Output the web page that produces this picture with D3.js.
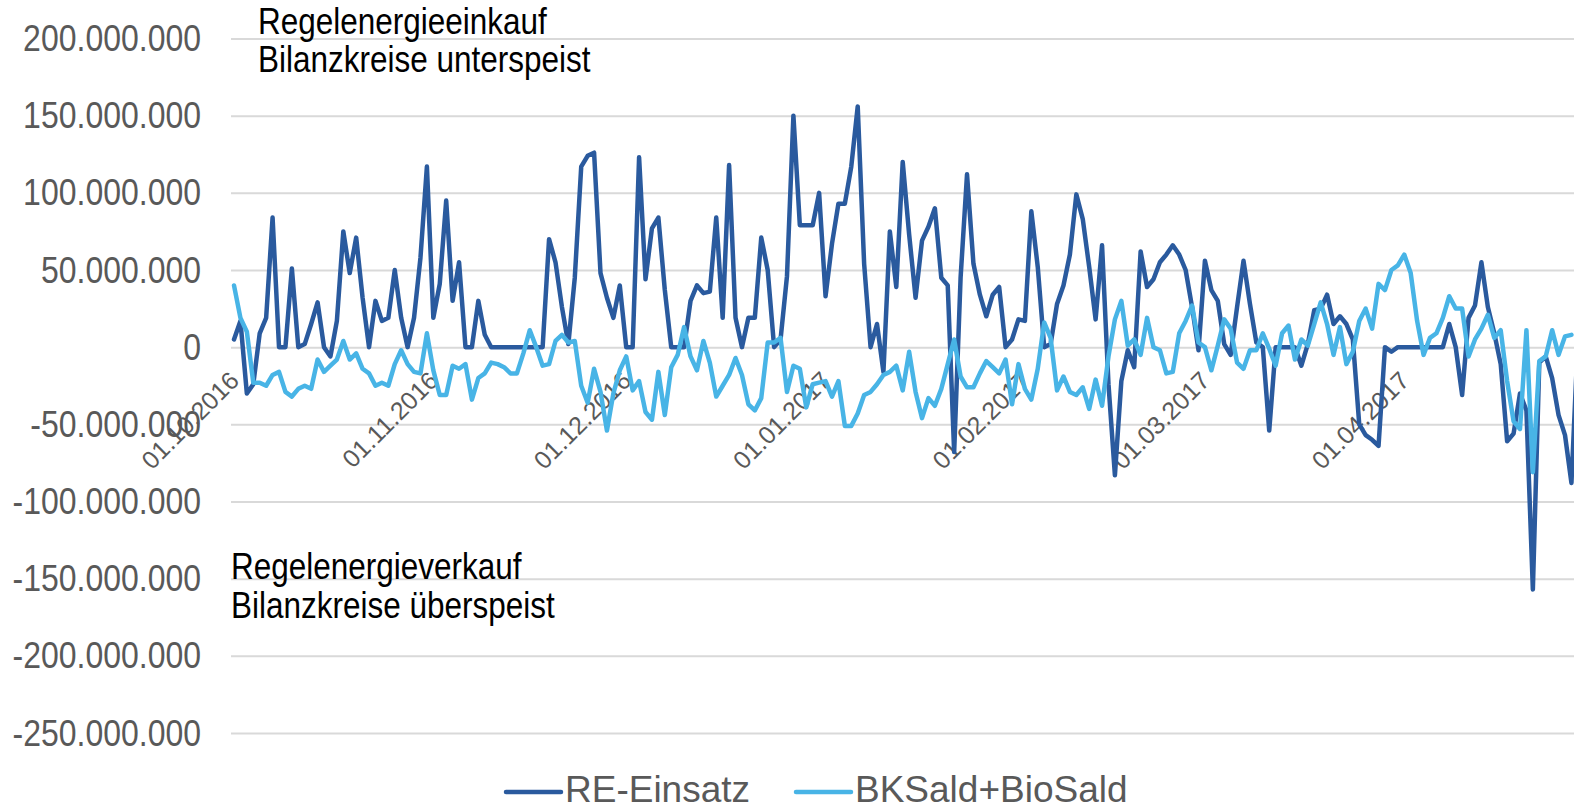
<!DOCTYPE html>
<html>
<head>
<meta charset="utf-8">
<script src="https://cdn.jsdelivr.net/npm/d3@7"></script>
<style>
  body { margin: 0; background: #fff; }
  svg { display: block; font-family: "Liberation Sans", Arial, sans-serif; }
</style>
</head>
<body>
<svg id="chart" width="1574" height="810"></svg>
<script>
// daily values in Mio., first day = startDate
const startDate = "2016-10-01";
const reEinsatz = [
    5, 17, -30, -24, 9, 19, 84, 0, 0, 51,
    0, 2, 15, 29, 0, -6, 17, 75, 48, 71,
    32, 0, 30, 17, 19, 50, 19, 0, 19, 58,
    117, 19, 41, 95, 30, 55, 0, 0, 30, 8,
    0, 0, 0, 0, 0, 0, 0, 0, 0, 70,
    55, 26, 2, 45, 117, 124, 126, 48, 32, 19,
    40, 0, 0, 123, 44, 77, 84, 37, 0, 0,
    0, 30, 40, 35, 36, 84, 19, 118, 19, 0,
    19, 19, 71, 50, 0, 5, 46, 150, 79, 79,
    79, 100, 33, 67, 93, 93, 117, 156, 54, 0,
    15, -16, 75, 39, 120, 73, 32, 69, 78, 90,
    45, 40, -68, 45, 112, 54, 34, 20, 34, 39,
    0, 5, 18, 17, 88, 52, 0, 2, 28, 40,
    60, 99, 83, 52, 18, 66, -24, -83, -22, -2,
    -13, 62, 39, 44, 55, 60, 66, 60, 50, 26,
    -2, 56, 37, 30, 2, -5, 26, 56, 28, 3,
    0, -54, 0, 0, 0, 0, -12, 2, 24, 25,
    34, 15, 20, 15, 5, -50, -57, -60, -64, 0,
    -3, 0, 0, 0, 0, 0, 0, 0, 0, 15,
    0, -31, 19, 27, 55, 26, 9, -11, -61, -56,
    -30, -41, -157, -10, -6, -20, -44, -57, -88, 5
];
const bkSaldBioSald = [
    40, 19, 10, -23, -23, -25, -18, -16, -29, -32,
    -27, -25, -27, -8, -16, -12, -8, 4, -8, -4,
    -14, -17, -25, -23, -25, -11, -2, -11, -16, -17,
    9, -15, -31, -31, -12, -14, -11, -34, -20, -17,
    -10, -11, -13, -17, -17, -4, 11, 0, -12, -11,
    4, 8, 3, 4, -25, -36, -14, -29, -54, -30,
    -15, -6, -28, -22, -42, -47, -16, -44, -13, -5,
    13, -6, -15, 4, -10, -32, -25, -18, -7, -18,
    -37, -41, -33, 3, 3, 6, -29, -12, -14, -39,
    -24, -23, -22, -32, -22, -51, -51, -43, -31, -29,
    -24, -18, -16, -12, -28, -3, -29, -46, -33, -38,
    -27, -11, 5, -19, -26, -26, -17, -9, -13, -17,
    -8, -37, -11, -27, -34, -14, 16, 6, -28, -19,
    -29, -31, -26, -40, -21, -38, -6, 18, 30, 1,
    5, -5, 19, 0, -2, -17, -16, 9, 17, 27,
    3, 0, -15, 1, 18, 12, -10, -14, -2, -2,
    9, -1, -12, 9, 14, -8, 5, 1, 15, 29,
    15, -5, 13, -11, -3, 17, 25, 12, 41, 37,
    50, 53, 60, 48, 17, -5, 6, 9, 19, 33,
    25, 25, -6, 5, 12, 21, 6, 11, -22, -48,
    -53, 11, -81, -9, -6, 11, -5, 7, 8
];
const yTicks = [200, 150, 100, 50, 0, -50, -100, -150, -200, -250];
const monthTicks = ["2016-10-01", "2016-11-01", "2016-12-01", "2017-01-01",
                    "2017-02-01", "2017-03-01", "2017-04-01"];
const seriesNames = ["RE-Einsatz", "BKSald+BioSald"];
const seriesColors = ["#2a5a9e", "#48b4e6"];
const noteTop = ["Regelenergieeinkauf", "Bilanzkreise unterspeist"];
const noteBottom = ["Regelenergieverkauf", "Bilanzkreise überspeist"];

const svg = d3.select("#chart");
const W = +svg.attr("width");
const plotLeft = 231;

const start = new Date(startDate);
const x = d3.scaleUtc()
    .domain([start, d3.utcDay.offset(start, 212)])
    .range([234, 234 + 6.43 * 212]);
const y = d3.scaleLinear()
    .domain([-250e6, 200e6])
    .range([733, 38.5]);

const de = d3.formatLocale({ decimal: ",", thousands: ".", grouping: [3], currency: ["", " €"], minus: "-" });
const fmtY = de.format(",d");

svg.append("rect").attr("width", W).attr("height", 810).attr("fill", "#fff");

// y axis + gridlines
const yAxis = svg.append("g")
    .attr("transform", `translate(${plotLeft},0)`)
    .call(d3.axisLeft(y)
        .tickValues(yTicks.map(v => v * 1e6))
        .tickSize(-(W - plotLeft))
        .tickPadding(30)
        .tickFormat(fmtY));
yAxis.select(".domain").remove();
yAxis.selectAll(".tick line").attr("stroke", "#d9d9d9").attr("stroke-width", 2);
yAxis.selectAll(".tick text")
    .attr("fill", "#595959")
    .attr("font-size", 32)
    .attr("transform", "scale(1,1.18)");

// month labels at the zero line
const xAxis = svg.append("g")
    .attr("transform", `translate(0,${y(0)})`)
    .call(d3.axisBottom(x)
        .tickValues(monthTicks.map(d => new Date(d)))
        .tickSize(0)
        .tickFormat(d3.utcFormat("%d.%m.%Y")));
xAxis.select(".domain").remove();
xAxis.selectAll(".tick text")
    .attr("x", 0).attr("y", 0).attr("dy", 0)
    .attr("fill", "#595959")
    .attr("font-size", 25)
    .attr("text-anchor", "end")
    .attr("transform", "translate(6,35) rotate(-45)");

// series
const series = [reEinsatz, bkSaldBioSald].map((vals, i) => ({
    name: seriesNames[i],
    color: seriesColors[i],
    values: vals.map((v, j) => ({ date: d3.utcDay.offset(start, j), value: v * 1e6 }))
}));

const line = d3.line()
    .x(d => x(d.date))
    .y(d => y(d.value));

svg.selectAll("path.series")
    .data(series)
    .enter().append("path")
    .attr("class", "series")
    .attr("fill", "none")
    .attr("stroke", d => d.color)
    .attr("stroke-width", 4.5)
    .attr("stroke-linejoin", "round")
    .attr("stroke-linecap", "round")
    .attr("d", d => line(d.values));

// annotations
function note(lines, px, py) {
    const g = svg.append("g").attr("transform", `translate(${px},${py}) scale(1,1.17)`);
    g.selectAll("text")
        .data(lines)
        .enter().append("text")
        .attr("y", (d, i) => i * 33)
        .attr("font-size", 31.5)
        .attr("fill", "#000")
        .text(d => d);
}
note(noteTop, 258, 33.5);
note(noteBottom, 231, 579);

// legend
const legend = svg.append("g").attr("transform", "translate(506,792)");
const item = legend.selectAll("g")
    .data(series)
    .enter().append("g")
    .attr("transform", (d, i) => `translate(${i * 290},0)`);
item.append("line")
    .attr("x1", 0).attr("x2", 55)
    .attr("stroke", d => d.color)
    .attr("stroke-width", 4.5)
    .attr("stroke-linecap", "round");
item.append("text")
    .attr("x", 59)
    .attr("y", 10)
    .attr("font-size", 37)
    .attr("fill", "#595959")
    .text(d => d.name);
</script>
</body>
</html>
